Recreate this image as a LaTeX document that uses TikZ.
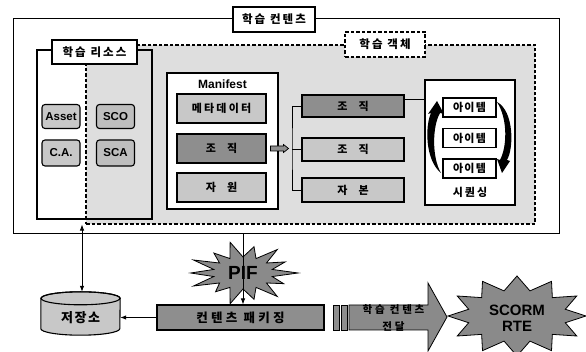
\documentclass[tikz,border=0pt]{standalone}
\usepackage{fontspec}
\setmainfont{Liberation Sans}
\newfontfamily\kr{Noto Sans CJK KR}[LetterSpace=12]
\usetikzlibrary{arrows.meta}

\definecolor{lightfill}{HTML}{C8C8C8}
\definecolor{scofill}{HTML}{BEBEBE}
\definecolor{darkfill}{HTML}{8E8E8E}
\definecolor{regionfill}{HTML}{DEDEDE}
\definecolor{starfill}{HTML}{8A8A8A}

\begin{document}
\begin{tikzpicture}[x=1pt,y=-1pt,
  kfont/.style={font=\kr\bfseries\fontsize{11}{13}\selectfont},
  box/.style={draw, line width=1.1pt, inner sep=0pt, kfont},
  lightbox/.style={box, fill=lightfill},
  darkbox/.style={box, fill=darkfill},
  tag/.style={draw, fill=white, line width=1.1pt, inner sep=0pt,
    font=\kr\bfseries\fontsize{11.5}{13}\selectfont\addfontfeature{LetterSpace=18}},
  rbox/.style={draw, line width=1.1pt, rounded corners=3pt, inner sep=0pt,
    minimum width=38pt, font=\bfseries\fontsize{11.5}{13}\selectfont},
  item/.style={draw, fill=white, line width=1.3pt, inner sep=0pt,
    minimum width=53pt, minimum height=19pt, kfont},
  link/.style={line width=0.8pt},
  tip/.style={-{Latex[length=6pt,width=4.5pt]}},
  spiky/.style={draw, line width=0.8pt, fill=starfill},
  dashline/.style={dash pattern=on 3.5pt off 2pt},
]
\useasboundingbox (0,0) rectangle (586,352);

% learning content frame, learning object region, resource box
\node[draw, fill=white, line width=1pt, minimum width=546pt, minimum height=215pt] (content) at (286,126.5) {};
\node[draw, fill=regionfill, line width=1.1pt, dashline, minimum width=449pt, minimum height=179pt] (lo) at (310.5,134.5) {};
\node[draw, line width=1.1pt, minimum width=115pt, minimum height=169pt] (res) at (94.5,134.5) {};

\node[tag, minimum width=82pt, minimum height=25pt] (ctag) at (274,19.5) {학습 컨텐츠};
\node[tag, minimum width=85pt, minimum height=24pt] (rtag) at (94.5,52) {학습 리소스};
\node[tag, dashline, minimum width=80pt, minimum height=25pt] (lotag) at (385,44.5) {학습 객체};

% resources
\node[rbox, fill=lightfill, minimum height=24pt] (asset) at (61,116.5) {Asset};
\node[rbox, fill=lightfill, minimum height=26pt] (ca) at (61,153) {C.A.};
\node[rbox, fill=scofill, minimum height=24pt] (sco) at (115.5,116.5) {SCO};
\node[rbox, fill=scofill, minimum height=26pt] (sca) at (115.5,153) {SCA};

% manifest
\node[draw, fill=white, line width=1.1pt, minimum width=111pt, minimum height=136pt] (man) at (222.5,141) {};
\node[font=\bfseries\fontsize{12}{14}\selectfont, inner sep=0pt] (mantitle) at (222.5,84) {Manifest};
\node[lightbox, minimum width=89pt, minimum height=29pt] (meta) at (221.5,108.5) {\addfontfeature{LetterSpace=20}메타데이터};
\node[darkbox, minimum width=89pt, minimum height=29pt] (morg) at (221.5,148.5) {조\hspace{1em}직};
\node[lightbox, minimum width=89pt, minimum height=29pt] (mres) at (221.5,187.5) {자\hspace{1em}원};

% organizations and resources
\node[darkbox, minimum width=102pt, minimum height=22pt] (org1) at (353,106) {조\hspace{1em}직};
\node[lightbox, minimum width=102pt, minimum height=23pt] (org2) at (353,149.5) {조\hspace{1em}직};
\node[lightbox, minimum width=102pt, minimum height=24pt] (res2) at (353,190) {자\hspace{1em}본};

\coordinate (fork) at (292,149.5);
\draw[link] (org1.west) -| (fork) |- (res2.west);
\draw[link] (fork) -- (org2.west);

% fat arrow from manifest organization
\draw[fill=darkfill, line width=0.7pt] ([shift={(4,-2.5)}]morg.east) -- ++(13,0) -- ++(0,-1.5)
  -- ++(5,4) -- ++(-5,4) -- ++(0,-1.5) -- ++(-13,0) -- cycle;

% sequencing
\node[draw, fill=white, line width=1.1pt, minimum width=90pt, minimum height=125pt] (seq) at (470,142.5) {};
\draw[link] ([yshift=7pt]org1.east) -- ([yshift=7pt]org1.east -| seq.west);
\node[item] (it1) at (469.5,107.5) {아이템};
\node[item] (it2) at (469.5,138) {아이템};
\node[item] (it3) at (469.5,168.5) {아이템};
\node[kfont, inner sep=0pt] (seqlabel) at (470,192) {\addfontfeature{LetterSpace=18}시퀀싱};
% tapered turning arrows around the items
\fill (441,173) .. controls (425,160) and (425,126) .. (431,113) -- (428,114) -- (437,101)
  -- (444,114) -- (440,113) .. controls (432,127) and (432,158) .. cycle;
\fill (497,102) .. controls (514,111) and (514,148) .. (507,160) -- (510,161) -- (502,173)
  -- (497,159) -- (500,160) .. controls (507,147) and (508,119) .. cycle;

% repository
\node[minimum width=79pt, minimum height=43pt, inner sep=0pt] (store) at (80.5,313.5) {};
\draw[line width=1.1pt, fill=lightfill] ([yshift=-6.5pt]store.north west) -- ([yshift=6.5pt]store.south west)
  arc[start angle=180, end angle=360, x radius=39.5pt, y radius=6.5pt]
  -- ([yshift=-6.5pt]store.north east)
  arc[start angle=0, end angle=180, x radius=39.5pt, y radius=6.5pt] -- cycle;
\draw[line width=1.1pt] ([yshift=-6.5pt]store.north) ellipse [x radius=39.5pt, y radius=6.5pt];
\node[font=\kr\bfseries\fontsize{13}{15}\selectfont, inner sep=0pt] (storetext) at ([yshift=-4.5pt]store.center) {저장소};
\draw[link, {Latex[length=6pt,width=4.5pt]}-{Latex[length=6pt,width=4.5pt]}]
  ([xshift=1.5pt]store.north) -- ([xshift=1.5pt]store.north |- lo.south);

% packaging
\node[box, fill=darkfill, minimum width=167pt, minimum height=25pt,
  font=\kr\bfseries\fontsize{12.5}{14}\selectfont\addfontfeature{LetterSpace=26}] (pack) at (240.5,317.5) {컨텐츠 패키징};
\draw[link, tip] (pack.west) -- (pack.west -| store.east);

% PIF burst
\coordinate (pifc) at (243,273);
\foreach \i/\r in {0/1,1/.82,2/1,3/.9,4/1.05,5/.8,6/1,7/.95,8/1,9/.85,10/1.05,11/.9,12/1,13/.85} {
  \coordinate (pif-o\i) at ([shift={({\r*55*cos(\i*360/14)},{\r*30*sin(\i*360/14)})}]pifc);
}
\foreach \i in {1,...,14} {
  \coordinate (pif-i\i) at ([shift={({30*cos((\i-0.5)*360/14)},{16*sin((\i-0.5)*360/14)})}]pifc);
}
\draw[spiky] (pif-o0) \foreach \i in {1,...,13} { -- (pif-i\i) -- (pif-o\i) } -- (pif-i14) -- cycle;
\node[font=\bfseries\fontsize{19}{21}\selectfont, inner sep=0pt] (pif) at (pifc) {PIF};
\draw[link, tip] (content.south -| pif) -- (pif |- pack.north);

% delivery
\node[draw, fill=darkfill, line width=0.8pt, minimum width=6pt, minimum height=25pt, inner sep=0pt] (bar1) at (336,317.5) {};
\node[draw, fill=darkfill, line width=0.8pt, minimum width=6pt, minimum height=25pt, inner sep=0pt] (bar2) at (344,317.5) {};
\draw[spiky] (349,305) -- (428,305) -- (428,283) -- (447,317) -- (428,351) -- (428,330) -- (349,330) -- cycle;
\node[font=\kr\bfseries\fontsize{10.5}{17}\selectfont\addfontfeature{LetterSpace=26}, align=center, inner sep=0pt] (deliv) at (393.5,317.5) {학습 컨텐츠\\전달};

% SCORM RTE burst
\coordinate (rtec) at (517,316);
\foreach \i in {0,...,11} {
  \coordinate (rte-o\i) at ([shift={({69*cos(\i*30)},{40*sin(\i*30)})}]rtec);
}
\foreach \i in {1,...,12} {
  \coordinate (rte-i\i) at ([shift={({50*cos((\i-0.5)*30)},{26*sin((\i-0.5)*30)})}]rtec);
}
\draw[spiky] (rte-o0) \foreach \i in {1,...,11} { -- (rte-i\i) -- (rte-o\i) } -- (rte-i12) -- cycle;
\node[font=\bfseries\fontsize{15}{16}\selectfont, align=center, inner sep=0pt] (scorm) at (517,318) {SCORM\\RTE};
\end{tikzpicture}
\end{document}
